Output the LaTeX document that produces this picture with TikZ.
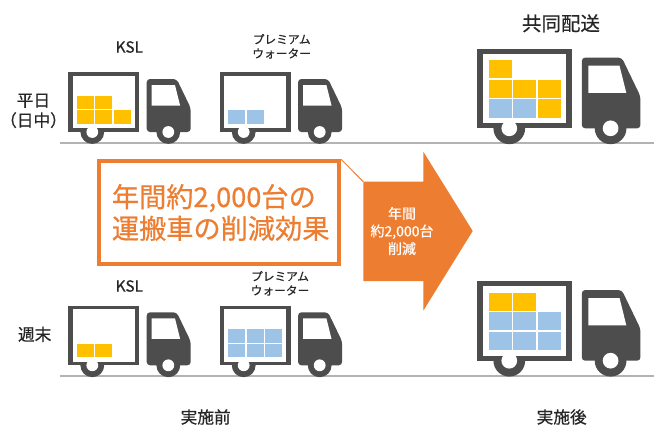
\documentclass[tikz,border=0pt]{standalone}
\usepackage{fontspec}
\setmainfont[FakeBold=0.6]{Noto Sans CJK JP}
\usetikzlibrary{arrows}
\definecolor{truckgray}{HTML}{4D4D4D}
\definecolor{roadgray}{HTML}{B3B3B3}
\definecolor{accent}{HTML}{ED7D31}
\definecolor{amber}{HTML}{FFC000}
\definecolor{skyblue}{HTML}{9DC3E6}
\tikzset{truck/.pic={
\fill[truckgray](24,0)circle(11.9);
\fill[truckgray](0,0)rectangle(71,-59.7);
\fill[white](4.4,-3.7)rectangle(66.7,-56);
\fill[white](24,0)circle(5.9);
\fill[truckgray,rounded corners=2.5pt](78.4,0)--(78.4,-53)--(108.4,-53)--(122.4,-24)--(122.4,0)--cycle;
\fill[truckgray](100,0)circle(11.9);
\fill[white](100,0)circle(5.9);
\fill[white](83.4,-47)--(106.7,-47)--(111.8,-26.5)--(83.4,-26.5)--cycle;
}}
\newcommand{\cargo}[1]{\foreach \c/\r/\k in {#1}
{\fill[fill=\k]({8.7+18.4*\c},{-8-14.7*\r})rectangle+(17,-13.7);}}
\begin{document}
\begin{tikzpicture}[x=0.75pt,y=-0.75pt,
label/.style={inner sep=0pt,align=center,text=black!85,font=\fontsize{12.5pt}{15pt}\selectfont},
small/.style={inner sep=0pt,align=center,text=black!85,font=\fontsize{8.8pt}{10.6pt}\selectfont},
road/.style={roadgray,line width=0.9pt}]
\useasboundingbox(0,0)rectangle(654,425);
\coordinate(roadA)at(59.5,143);\coordinate(roadB)at(654,143);
\coordinate(roadC)at(59.5,376);\coordinate(roadD)at(654,376);
\draw[road](roadA)--(roadB)(roadC)--(roadD);
\begin{scope}[shift={(68.3,132)}]
\pic{truck};\cargo{0/0/amber,1/0/amber,2/0/amber,0/1/amber,1/1/amber}
\end{scope}
\begin{scope}[shift={(219.7,132)}]
\pic{truck};\cargo{0/0/skyblue,1/0/skyblue}
\end{scope}
\begin{scope}[shift={(68.3,365.3)}]
\pic{truck};\cargo{0/0/amber,1/0/amber}
\end{scope}
\begin{scope}[shift={(219.7,365.3)}]
\pic{truck};\cargo{0/0/skyblue,1/0/skyblue,2/0/skyblue,0/1/skyblue,1/1/skyblue,2/1/skyblue}
\end{scope}
\begin{scope}[shift={(477.3,128.3)},scale=1.333]
\pic[transform shape]{truck};\cargo{0/0/skyblue,1/0/skyblue,2/0/amber,0/1/amber,1/1/amber,2/1/amber,0/2/amber}
\end{scope}
\begin{scope}[shift={(477.3,360.7)},scale=1.333]
\pic[transform shape]{truck};\cargo{0/0/skyblue,1/0/skyblue,2/0/skyblue,0/1/skyblue,1/1/skyblue,2/1/skyblue,0/2/amber,1/2/amber}
\end{scope}
%arrow and its callout
\fill[accent](363.3,181.7)--(423.3,181.7)--(423.3,151.7)--(472.7,231)--(423.3,310.7)--(423.3,281)--(363.3,281)--cycle;
\coordinate(corner)at(363.3,181.7);
\node(callout)at(218.9,212.5)[draw=accent,fill=white,line width=3pt,minimum width=180.2pt,minimum height=76.8pt]{};
\node(slogan)at(220.7,212.5)[inner sep=0pt,align=left,text=accent,font=\fontsize{20.4pt}{23.7pt}\selectfont]{年間約2,000台の\\運搬車の削減効果};
\draw[accent,line width=0.7pt](callout.north east)--(corner);
\node(cut)at(402,231)[inner sep=0pt,align=center,text=white,font=\fontsize{10.5pt}{13.2pt}\selectfont]{年間\\約2,000台\\削減};
\node[label,font=\fontsize{11.5pt}{12pt}\selectfont](kslA)at(129.3,47){KSL};
\node[small](waterA)at(281.7,46.3){プレミアム\\ウォーター};
\node[label,font=\fontsize{11.5pt}{12pt}\selectfont](kslB)at(129.3,286){KSL};
\node[small](waterB)at(280,283.3){プレミアム\\ウォーター};
\node[label](weekday)at(33.5,110.8){平日\\（日中）};
\node[label](weekend)at(34.7,334.3){週末};
\node[label](before)at(205.7,417){実施前};
\node[label](after)at(561.7,417){実施後};
\node[label,font=\fontsize{14.6pt}{17pt}\selectfont](joint)at(561,23.3){共同配送};
\end{tikzpicture}
\end{document}
